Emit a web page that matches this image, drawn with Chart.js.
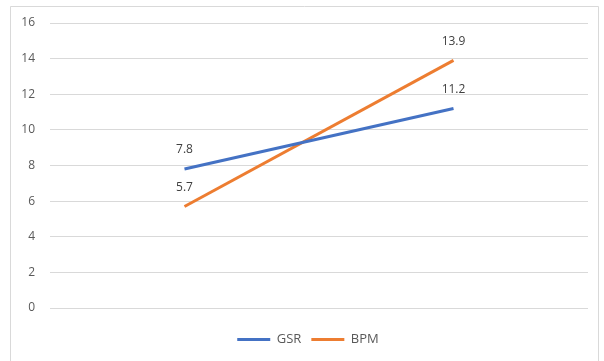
<!DOCTYPE html>
<html>
<head>
<meta charset="utf-8">
<script src="https://cdn.jsdelivr.net/npm/chart.js@4/dist/chart.umd.min.js"></script>
<style>
  html, body { margin: 0; padding: 0; background: #ffffff; }
  #wrap { position: relative; width: 604px; height: 361px; }
</style>
</head>
<body>
<div id="wrap"><canvas id="c" width="604" height="361"></canvas></div>
<script>
// Two measurement points, one value per series at each
const categories = ['1', '2'];
const gsrValues = [7.8, 11.2];
const bpmValues = [5.7, 13.9];
const yTicks = [0, 2, 4, 6, 8, 10, 12, 14, 16];

const FONT = '"Open Sans", "Liberation Sans", sans-serif';

// Light frame around the whole chart
const framePlugin = {
  id: 'frame',
  beforeDraw(chart) {
    const ctx = chart.ctx;
    ctx.save();
    ctx.fillStyle = '#ffffff';
    ctx.fillRect(0, 0, chart.width, chart.height);
    ctx.strokeStyle = '#d9d9d9';
    ctx.lineWidth = 1;
    ctx.beginPath();
    ctx.moveTo(10.5, chart.height + 2);
    ctx.lineTo(10.5, 6.5);
    ctx.lineTo(598.5, 6.5);
    ctx.lineTo(598.5, chart.height + 2);
    ctx.stroke();
    ctx.restore();
  }
};

// Centre the legend a little to the right, under the plot area
const legendShift = {
  id: 'legendShift',
  afterLayout(chart) {
    if (chart.legend) {
      chart.legend.left += 9;
      chart.legend.right += 9;
    }
  }
};

// Value labels drawn above each point
const valueLabels = {
  id: 'valueLabels',
  afterDatasetsDraw(chart) {
    const ctx = chart.ctx;
    ctx.save();
    ctx.font = '12px ' + FONT;
    ctx.fillStyle = '#404040';
    ctx.textAlign = 'center';
    ctx.textBaseline = 'middle';
    chart.data.datasets.forEach((ds, i) => {
      const meta = chart.getDatasetMeta(i);
      meta.data.forEach((pt, j) => {
        ctx.fillText(String(ds.data[j]), pt.x, pt.y - 19);
      });
    });
    ctx.restore();
  }
};

new Chart(document.getElementById('c'), {
  type: 'line',
  data: {
    labels: categories,
    datasets: [
      { label: 'GSR', data: gsrValues, borderColor: '#4472c4', backgroundColor: '#4472c4',
        borderWidth: 3, pointRadius: 0, tension: 0 },
      { label: 'BPM', data: bpmValues, borderColor: '#ed7d31', backgroundColor: '#ed7d31',
        borderWidth: 3, pointRadius: 0, tension: 0 }
    ]
  },
  options: {
    responsive: false,
    animation: false,
    devicePixelRatio: 1,
    layout: { padding: { left: 10, right: 16, top: 23, bottom: 5 } },
    plugins: {
      tooltip: { enabled: false },
      legend: {
        position: 'bottom',
        labels: {
          font: { size: 13, family: FONT },
          color: '#595959',
          boxWidth: 33,
          boxHeight: 3,
          padding: 10,
          generateLabels(chart) {
            return chart.data.datasets.map((ds, i) => ({
              text: ds.label,
              fillStyle: ds.borderColor,
              strokeStyle: ds.borderColor,
              lineWidth: 0,
              fontColor: '#595959',
              datasetIndex: i,
              hidden: false
            }));
          }
        }
      }
    },
    scales: {
      x: {
        offset: true,
        grid: { display: false },
        border: { display: false },
        ticks: { display: false },
        afterFit(axis) { axis.height = 15; }
      },
      y: {
        min: 0,
        max: 16,
        afterBuildTicks(axis) { axis.ticks = yTicks.map(v => ({ value: v })); },
        afterFit(axis) { axis.width = 40; },
        border: { display: false },
        grid: { color: '#d9d9d9', lineWidth: 1, drawTicks: false },
        ticks: {
          padding: 15,
          color: '#595959',
          font: { size: 12, family: FONT }
        }
      }
    }
  },
  plugins: [framePlugin, legendShift, valueLabels]
});
</script>
</body>
</html>
